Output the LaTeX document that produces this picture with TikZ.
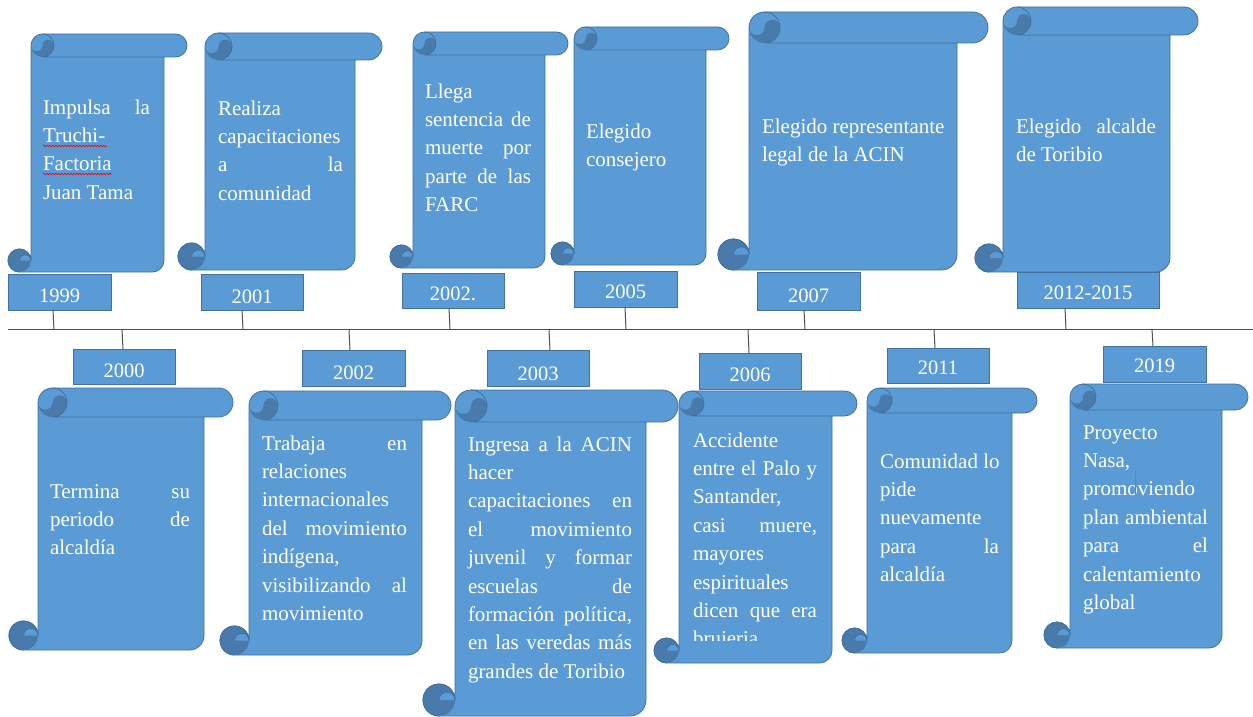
\documentclass[tikz,border=0pt]{standalone}
\usepackage{fontspec}
\setmainfont{Liberation Serif}
\usetikzlibrary{decorations.pathmorphing}
\definecolor{scrollblue}{RGB}{91,155,213}
\definecolor{scrolledge}{RGB}{65,113,156}
\definecolor{curlblue}{RGB}{72,123,172}
\definecolor{axisgray}{RGB}{80,80,80}
\newlength\LW
\newcommand\Jl[1]{\makebox[\LW][s]{\spaceskip=0.25em plus 1fil\relax #1}}
\newcommand\Ll[1]{\makebox[\LW][l]{\spaceskip=0.25em\relax #1}}
\tikzset{
  scrollbody/.style={fill=scrollblue, draw=scrolledge, line width=0.8pt, line join=round},
  bodyfill/.style={fill=scrollblue},
  curlfill/.style={fill=curlblue},
  edge/.style={draw=scrolledge, line width=0.8pt},
  txt/.style={text=white, font=\fontsize{21}{28.4}\selectfont, inner sep=0pt, outer sep=0pt, anchor=north west},
  yearbox/.style={fill=scrollblue, draw=scrolledge, line width=0.8pt, text=white, font=\fontsize{20.5}{24}\selectfont, inner sep=0pt, outer sep=0pt},
  tickline/.style={draw=axisgray, line width=1pt},
  axisline/.style={draw=axisgray, line width=1.3pt},
  squiggle/.style={draw=red, line width=0.6pt, decorate, decoration={snake, amplitude=0.9pt, segment length=3pt}}
}
% scroll: l t r b s
\newcommand\scroll[5]{%
  \pgfmathsetmacro\Sh{#5/2}%
  \pgfmathsetmacro\Sq{#5/4}%
  \pgfmathsetmacro\SL{#1+#5}%
  \pgfmathsetmacro\SR{#3-#5}%
  \pgfmathsetmacro\Sa{#2+\Sh}%
  \pgfmathsetmacro\Sc{#2+#5}%
  \pgfmathsetmacro\Sd{#4-\Sh}%
  \pgfmathsetmacro\Se{#3-\Sh}%
  \pgfmathsetmacro\Sf{#1+\Sh}%
  \pgfmathsetmacro\Sg{\SL+\Sh}%
  \path[scrollbody] (\SL,\Sd) -- (\SL,\Sa) arc[start angle=180,end angle=270,radius=\Sh]
     -- (\Se,#2) arc[start angle=270,end angle=450,radius=\Sh]
     -- (\SR,\Sc) -- (\SR,\Sd) arc[start angle=0,end angle=90,radius=\Sh]
     -- (\Sf,#4) arc[start angle=90,end angle=360,radius=\Sh] -- cycle;
  \fill[curlfill] (\SL,\Sa) arc[start angle=180,end angle=0,radius=\Sq]
     arc[start angle=180,end angle=360,radius=\Sq]
     arc[start angle=0,end angle=180,radius=\Sh] -- cycle;
  \draw[edge] (\Sg,#2) arc[start angle=270,end angle=450,radius=\Sh] -- (\SR,\Sc);
  \fill[curlfill] (\Sf,\Sd) circle[radius=\Sh];
  \fill[bodyfill] (\Sf,\Sd) arc[start angle=180,end angle=360,radius=\Sq] -- cycle;
  \draw[edge] (\Sf,\Sd) arc[start angle=180,end angle=360,radius=\Sq];
  \draw[edge] (\Sf,#4) arc[start angle=90,end angle=360,radius=\Sh];
}
% text block: name x firstbaseline width lines
\newcommand\stext[5]{%
  \node[txt, text width=#4pt] (#1) at (#2,{#3-20}) {\setlength\LW{#4pt}\noindent\rule{0pt}{20pt}#5};
}
% year box: name x1 y1 x2 y2 baseline text
\newcommand\yearlabel[7]{%
  \pgfmathsetmacro\Yw{#4-#2}\pgfmathsetmacro\Yh{#5-#3}%
  \pgfmathsetmacro\Ya{#6-#3}\pgfmathsetmacro\Yd{#5-#6}%
  \node[yearbox, minimum width=\Yw pt, minimum height=\Yh pt, text height=\Ya pt, text depth=\Yd pt] (#1) at ({(#2+#4)/2},{(#3+#5)/2}) {#7};
}
\begin{document}
\begin{tikzpicture}[x=1pt,y=-1pt]
\useasboundingbox (0,0) rectangle (1253,717);
\fill[white] (0,0) rectangle (1253,717);

% ---------- top scrolls ----------
\scroll{8}{34}{187}{272}{23}
\stext{t1999}{43}{114}{107}{\Jl{Impulsa la}\\\Ll{Truchi-}\\\Ll{Factoria}\\\Ll{Juan Tama}}
\draw[squiggle] (43,146) -- (107,146);
\draw[squiggle] (43,174) -- (112,174);

\scroll{178}{33}{382}{270}{27}
\stext{t2001}{218}{115}{125}{\Ll{Realiza}\\\Ll{capacitaciones}\\\Jl{a la}\\\Ll{comunidad}}

\scroll{390}{32}{568}{268}{23}
\stext{t2002a}{425}{98}{106}{\Ll{Llega}\\\Jl{sentencia de}\\\Jl{muerte por}\\\Jl{parte de las}\\\Ll{FARC}}

\scroll{551}{27}{729}{265}{23}
\stext{t2005}{586}{138}{110}{\Ll{Elegido}\\\Ll{consejero}}

\scroll{718}{12}{988}{270}{31}
\stext{t2007}{762}{133}{184}{\Ll{Elegido representante}\\\Ll{legal de la ACIN}}

\scroll{975}{7}{1198}{272}{28}
\stext{t2012}{1016}{133}{140}{\Jl{Elegido alcalde}\\\Ll{de Toribio}}

% ---------- bottom scrolls ----------
\scroll{9}{388}{233}{650}{29}
\stext{t2000}{50}{498}{140}{\Jl{Termina su}\\\Jl{periodo de}\\\Ll{alcaldía}}

\scroll{220}{391}{451}{655}{29}
\stext{t2002b}{262}{450}{145}{\Jl{Trabaja en}\\\Ll{relaciones}\\\Ll{internacionales}\\\Jl{del movimiento}\\\Ll{indígena,}\\\Jl{visibilizando al}\\\Ll{movimiento}}

\scroll{423}{390}{678}{716}{32}
\stext{t2003}{468}{451}{164}{\Jl{Ingresa a la ACIN}\\\Ll{hacer}\\\Jl{capacitaciones en}\\\Jl{el movimiento}\\\Jl{juvenil y formar}\\\Jl{escuelas de}\\\Jl{formación política,}\\\Jl{en las veredas más}\\\Ll{grandes de Toribio}}

\scroll{654}{391}{857}{663}{25}
\begin{scope}
  \clip (679,391) rectangle (832,640);
  \stext{t2006}{693}{447}{124}{\Ll{Accidente}\\\Jl{entre el Palo y}\\\Ll{Santander,}\\\Jl{casi muere,}\\\Ll{mayores}\\\Ll{espirituales}\\\Jl{dicen que era}\\\Ll{brujeria}}
\end{scope}

\scroll{842}{388}{1037}{653}{25}
\stext{t2011}{880}{468}{119}{\Jl{Comunidad lo}\\\Ll{pide}\\\Ll{nuevamente}\\\Jl{para la}\\\Ll{alcaldía}}

\scroll{1044}{384}{1248}{648}{26}
\stext{t2019}{1083}{439}{125}{\Ll{Proyecto}\\\Ll{Nasa,}\\\Ll{promoviendo}\\\Jl{plan ambiental}\\\Jl{para el}\\\Ll{calentamiento}\\\Ll{global}}
\draw[gray, line width=0.8pt] (1135,471) -- (1135,495);

% ---------- year boxes ----------
\yearlabel{y1999}{8}{274}{111}{310}{302}{1999}
\yearlabel{y2001}{201}{274}{303}{310}{303}{2001}
\yearlabel{y2002a}{402}{273}{504}{308}{300}{2002.}
\yearlabel{y2005}{574}{271}{677}{307}{298}{2005}
\yearlabel{y2007}{757}{272}{860}{310}{302}{2007}
\yearlabel{y2012}{1017}{272}{1159}{308}{299}{2012-2015}
\yearlabel{y2000}{73}{349}{175}{384}{377}{2000}
\yearlabel{y2002b}{302}{350}{405}{386}{379}{2002}
\yearlabel{y2003}{487}{350}{589}{386}{380}{2003}
\yearlabel{y2006}{699}{353}{801}{389}{381}{2006}
\yearlabel{y2011}{887}{348}{989}{383}{374}{2011}
\yearlabel{y2019}{1103}{346}{1206}{382}{372}{2019}

% ---------- timeline ----------
\coordinate (tlL) at (8,329.5);
\coordinate (tlR) at (1253,329.5);
\draw[axisline] (tlL) -- (tlR);
\coordinate (a1999) at (54,329.5);
\coordinate (a2001) at (243,329.5);
\coordinate (a2002a) at (450,329.5);
\coordinate (a2005) at (626,329.5);
\coordinate (a2007) at (805,329.5);
\coordinate (a2012) at (1066,329.5);
\coordinate (a2000) at (122,329.5);
\coordinate (a2002b) at (349,329.5);
\coordinate (a2003) at (549,329.5);
\coordinate (a2006) at (748,329.5);
\coordinate (a2011) at (934,329.5);
\coordinate (a2019) at (1152,329.5);
\draw[tickline] ([xshift=-6.5pt]y1999.south) -- (a1999);
\draw[tickline] ([xshift=-10pt]y2001.south) -- (a2001);
\draw[tickline] ([xshift=-4pt]y2002a.south) -- (a2002a);
\draw[tickline] ([xshift=-0.5pt]y2005.south) -- (a2005);
\draw[tickline] ([xshift=-4.5pt]y2007.south) -- (a2007);
\draw[tickline] ([xshift=-23pt]y2012.south) -- (a2012);
\draw[tickline] (a2000) -- ([xshift=-1pt]y2000.north);
\draw[tickline] (a2002b) -- ([xshift=-3.5pt]y2002b.north);
\draw[tickline] (a2003) -- ([xshift=12pt]y2003.north);
\draw[tickline] (a2006) -- ([xshift=-1pt]y2006.north);
\draw[tickline] (a2011) -- ([xshift=-3pt]y2011.north);
\draw[tickline] (a2019) -- ([xshift=-1.5pt]y2019.north);
\end{tikzpicture}
\end{document}
